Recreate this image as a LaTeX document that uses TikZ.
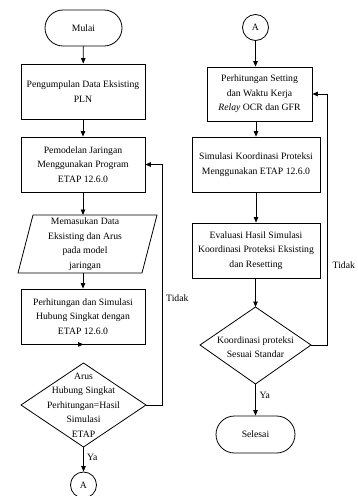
\documentclass[tikz,border=0pt]{standalone}
\usepackage{fontspec}
\setmainfont{Liberation Serif}
\usetikzlibrary{arrows.meta}
\begin{document}
\begin{tikzpicture}[x=1pt,y=-1pt,
  every node/.style={font=\fontsize{9.7}{14.5}\selectfont, align=center, inner sep=0pt},
  box/.style={draw, line width=0.8pt, minimum width=124pt, minimum height=55pt},
  term/.style={draw, line width=0.8pt, rounded corners=18pt, minimum width=77pt, minimum height=36pt},
  conn/.style={draw, circle, line width=0.8pt, minimum size=26pt},
  lbl/.style={anchor=west},
  arr/.style={line width=0.8pt, -{Triangle[length=5.5pt,width=4.5pt]}},
  ln/.style={line width=0.8pt}
]
\useasboundingbox (0,0) rectangle (357,496);

% ---------- left column ----------
\node[term] (start) at (83.5,28) {Mulai};
\node[box] (b1) at (83,91.5) {Pengumpulan Data Eksisting\\PLN};
\node[box] (b2) at (83,164.5) {Pemodelan Jaringan\\Menggunakan Program\\ETAP 12.6.0};
\node[minimum width=124pt, minimum height=58pt] (par) at (85,244) {Memasukan Data\\Eksisting dan Arus\\pada model\\jaringan};
\coordinate (p1) at (33,215);
\coordinate (p2) at (157,215);
\coordinate (p3) at (142,273);
\coordinate (p4) at (18,273);
\draw[ln] (p1) -- (p2) -- (p3) -- (p4) -- cycle;
\node[box] (b3) at (83,316.5) {Perhitungan dan Simulasi\\Hubung Singkat dengan\\ETAP 12.6.0};
\node (d1) at (83.5,405) {Arus\\Hubung Singkat\\Perhitungan=Hasil\\Simulasi\\ETAP};
\coordinate (d1n) at (83.5,363);
\coordinate (d1e) at (146,405);
\coordinate (d1s) at (83.5,447);
\coordinate (d1w) at (21,405);
\draw[ln] (d1n) -- (d1e) -- (d1s) -- (d1w) -- cycle;
\node[conn] (a1) at (83.5,485) {A};
\coordinate (fb1) at (162,405);

\draw[arr] (start) -- (b1);
\draw[arr] (b1) -- (b2);
\draw[arr] (b2.south) -- (b2.south |- p1);
\draw[arr] (b3.north |- p4) -- (b3.north);
\draw[arr] (b3.south) -- (b3.south -| d1n);
\draw[arr] (d1s) -- (a1);
\draw[arr] (d1e) -- (fb1) |- (b2.east);
\node[lbl] (ya1) at (87,457) {Ya};
\node[lbl] (t1) at (166,298) {Tidak};

% ---------- right column ----------
\node[conn] (a2) at (255.5,27.5) {A};
\node[box, minimum width=105pt, minimum height=54pt] (r1) at (259.5,94) {Perhitungan Setting\\dan Waktu Kerja\\\textit{Relay} OCR dan GFR};
\node[box, minimum width=128pt] (r2) at (256,164.5) {Simulasi Koordinasi Proteksi\\Menggunakan ETAP 12.6.0};
\node[box, minimum width=128pt] (r3) at (256,250.5) {Evaluasi Hasil Simulasi\\Koordinasi Proteksi Eksisting\\dan Resetting};
\node (d2) at (255.5,347) {Koordinasi proteksi\\Sesuai Standar};
\coordinate (d2n) at (255.5,307);
\coordinate (d2e) at (311,345);
\coordinate (d2s) at (255.5,384);
\coordinate (d2w) at (200,345);
\draw[ln] (d2n) -- (d2e) -- (d2s) -- (d2w) -- cycle;
\node[term, minimum width=79pt, minimum height=37pt, rounded corners=18.5pt] (end) at (255.5,434.5) {Selesai};
\coordinate (fb2) at (327,345);

\draw[arr] (a2.south) -- (a2.south |- r1.north);
\draw[arr] (r2.north |- r1.south) -- (r2.north);
\draw[arr] (r2) -- (r3);
\draw[arr] (r3.south -| d2n) -- (d2n);
\draw[arr] (d2s) -- (end);
\draw[arr] (d2e) -- (fb2) |- (r1.east);
\node[lbl] (ya2) at (259.5,395) {Ya};
\node[lbl] (t2) at (332.5,265) {Tidak};
\end{tikzpicture}
\end{document}
